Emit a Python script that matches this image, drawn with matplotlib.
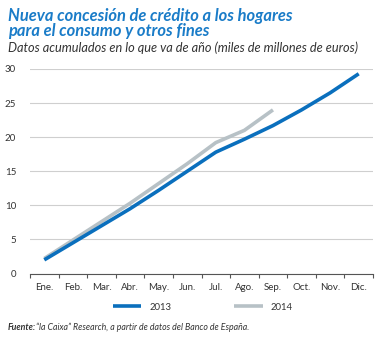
import numpy as np
import matplotlib
matplotlib.use("Agg")
import matplotlib.pyplot as plt

months = ["Ene.", "Feb.", "Mar.", "Abr.", "May.", "Jun.", "Jul.", "Ago.", "Sep.", "Oct.", "Nov.", "Dic."]
y2013 = [2.0, 4.5, 7.0, 9.5, 12.2, 15.0, 17.8, 19.7, 21.7, 24.0, 26.5, 29.3]
y2014 = [2.2, 4.9, 7.6, 10.3, 13.2, 16.1, 19.2, 21.0, 24.0]

blue = "#0a6fbd"
grey = "#b7c1c6"
title_col = "#1a7cc8"
txt = "#333333"

plt.rcParams["font.family"] = ["Lato", "DejaVu Sans"]

W, H = 383, 338
fig = plt.figure(figsize=(W / 100, H / 100), dpi=100)

# plot area in pixel coordinates
left, right, top, bottom = 30, 373, 69, 273.5
ax = fig.add_axes([left / W, 1 - bottom / H, (right - left) / W, (bottom - top) / H])

x13 = np.arange(len(y2013))
x14 = np.arange(len(y2014))
ax.plot(x13, y2013, color=blue, lw=2.6, solid_capstyle="butt", zorder=3, label="2013")
ax.plot(x14, y2014, color=grey, lw=2.6, solid_capstyle="butt", zorder=2, label="2014")

ax.set_xlim(-0.5, 11.5)
ax.set_ylim(0, 30)
ax.set_yticks(range(0, 31, 5))
ax.set_yticklabels([str(v) for v in range(0, 31, 5)], fontsize=7, color=txt)
ax.yaxis.grid(True, color="#cfcfcf", lw=0.8)
ax.set_axisbelow(True)
ax.tick_params(axis="y", length=0, pad=10)

ax.set_xticks(np.arange(-0.5, 12, 1))
ax.set_xticklabels([])
ax.set_xticks(x13, minor=True)
ax.set_xticklabels(months, minor=True, fontsize=7, color=txt)
ax.tick_params(axis="x", which="major", length=3, color="#555555", width=0.8)
ax.tick_params(axis="x", which="minor", length=0, pad=7)

for s in ["top", "right", "left"]:
    ax.spines[s].set_visible(False)
ax.spines["bottom"].set_color("#555555")
ax.spines["bottom"].set_linewidth(0.8)

leg = fig.legend(loc="center", bbox_to_anchor=(203 / W, 1 - 307 / H), ncol=2, frameon=False,
                 fontsize=6.8, handlelength=3.0, columnspacing=6.6, handletextpad=0.9)
for t in leg.get_texts():
    t.set_color(txt)

fig.text(8 / W, 1 - 16 / H, "Nueva concesión de crédito a los hogares", fontsize=11.9,
         fontweight="bold", style="italic", color=title_col, va="center")
fig.text(8 / W, 1 - 31 / H, "para el consumo y otros fines", fontsize=11.9,
         fontweight="bold", style="italic", color=title_col, va="center")
fig.text(8 / W, 1 - 48 / H, "Datos acumulados en lo que va de año (miles de millones de euros)",
         fontsize=9.2, style="italic", color=txt, va="center")

fig.text(8 / W, 1 - 327 / H, "Fuente:", fontsize=6.3, fontweight="bold", style="italic",
         color=txt, va="center")
fig.text(36 / W, 1 - 327 / H, "\u201cla Caixa\u201d Research, a partir de datos del Banco de España.",
         fontsize=6.3, style="italic", color=txt, va="center")

fig.savefig("out.png", dpi=100)
